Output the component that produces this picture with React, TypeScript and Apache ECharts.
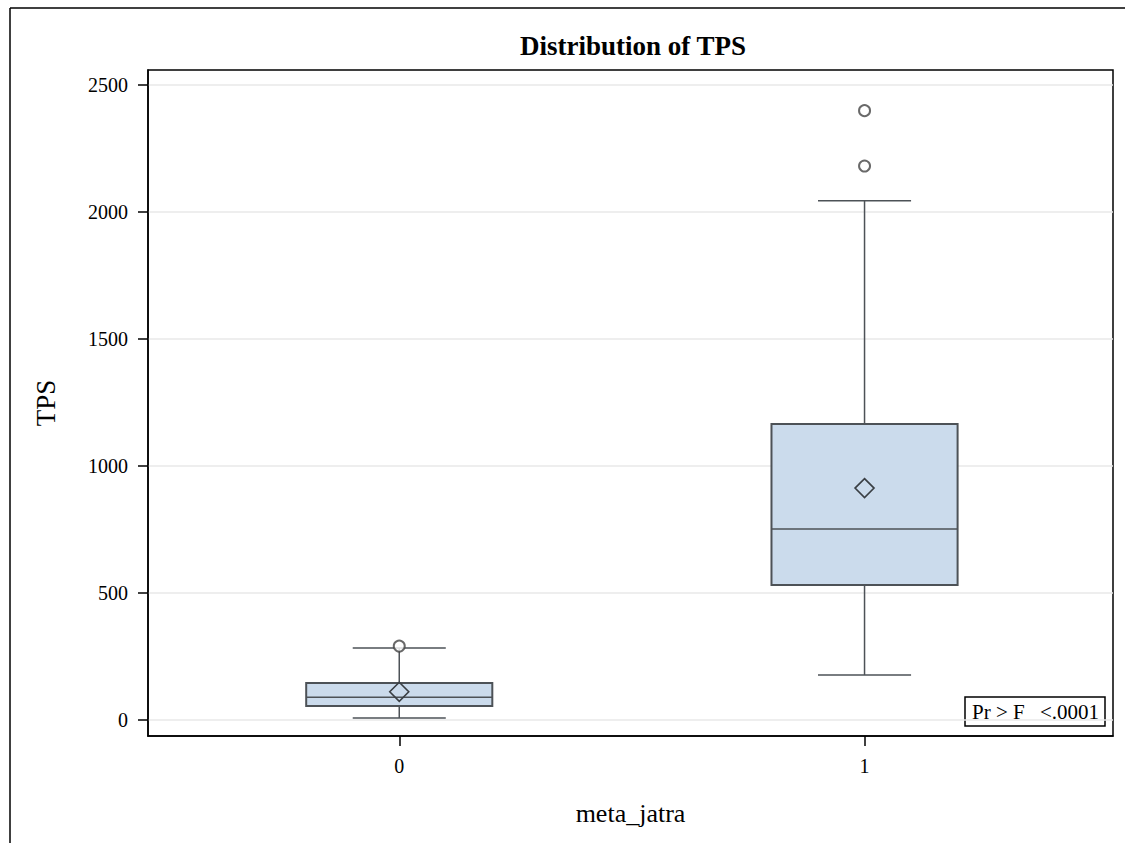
import React, { useEffect, useRef } from "react";
import * as echarts from "echarts";

const categories = ["0", "1"];
const boxMin = [8, 177];
const boxQ1 = [55, 531];
const boxMedian = [90, 752];
const boxQ3 = [146, 1165];
const boxMax = [283, 2044];
const boxMean = [111, 913];
const outlierCategory = [0, 1, 1];
const outlierValue = [291, 2181, 2399];
const yTicks = [0, 500, 1000, 1500, 2000, 2500];
const pLabel = "Pr > F";
const pValue = "<.0001";

const FONT = "'Liberation Serif', 'Times New Roman', 'DejaVu Serif', serif";

export default function App() {
  const ref = useRef<HTMLDivElement>(null);
  useEffect(() => {
    if (!ref.current) return;
    const chart = echarts.init(ref.current, undefined, { renderer: "svg" });
    const boxData = categories.map((_, i) => [
      i,
      boxMin[i],
      boxQ1[i],
      boxMedian[i],
      boxQ3[i],
      boxMax[i],
      boxMean[i],
    ]);
    const outData = outlierValue.map((v, i) => [outlierCategory[i], v]);
    const edge = "#4d5257";
    const option: any = {
      animation: false,
      backgroundColor: "#ffffff",
      title: {
        text: "Distribution of TPS",
        left: 628,
        top: 27,
        textAlign: "center",
        textStyle: { fontFamily: FONT, fontSize: 27, fontWeight: "bold", color: "#000" },
      },
      grid: {
        left: 148,
        top: 70,
        width: 965,
        height: 666,
        show: true,
        borderColor: "#000",
        borderWidth: 1.5,
        backgroundColor: "transparent",
      },
      xAxis: {
        type: "value",
        min: -0.54,
        max: 1.534,
        name: "meta_jatra",
        nameLocation: "middle",
        nameGap: 64,
        nameTextStyle: { fontFamily: FONT, fontSize: 26, color: "#000" },
        axisLine: { show: true, onZero: false, lineStyle: { color: "#000", width: 1.5 } },
        axisTick: { show: true, length: 10, customValues: [0, 1], lineStyle: { color: "#000", width: 1.5 } },
        axisLabel: {
          customValues: [0, 1],
          margin: 20,
          fontFamily: FONT,
          fontSize: 20,
          color: "#000",
          formatter: (v: number) => categories[Math.round(v)] ?? "",
        },
        splitLine: { show: false },
      },
      yAxis: {
        type: "value",
        min: -63,
        max: 2559,
        name: "TPS",
        nameLocation: "middle",
        nameGap: 89,
        nameRotate: 90,
        nameTextStyle: { fontFamily: FONT, fontSize: 27, color: "#000" },
        axisLine: { show: true, onZero: false, lineStyle: { color: "#000", width: 1.5 } },
        axisTick: { show: true, length: 10, customValues: yTicks, lineStyle: { color: "#000", width: 1.5 } },
        axisLabel: {
          customValues: yTicks,
          margin: 20,
          fontFamily: FONT,
          fontSize: 20,
          color: "#000",
          formatter: (v: number) => String(v),
        },
        splitLine: { show: true, lineStyle: { color: "#e8e8e8", width: 1.5 } },
      },
      series: [
        {
          type: "custom",
          data: boxData,
          encode: { x: 0, y: [1, 2, 3, 4, 5, 6] },
          renderItem: (params: any, api: any) => {
            const x = api.value(0);
            const unit = api.size([1, 0])[0];
            const hw = unit * 0.2;
            const cw = unit * 0.1;
            const pMin = api.coord([x, api.value(1)]);
            const pQ1 = api.coord([x, api.value(2)]);
            const pMed = api.coord([x, api.value(3)]);
            const pQ3 = api.coord([x, api.value(4)]);
            const pMax = api.coord([x, api.value(5)]);
            const pMean = api.coord([x, api.value(6)]);
            const cx = pMed[0];
            const lineStyle = { stroke: edge, lineWidth: 1.5 };
            const d = 9.5;
            return {
              type: "group",
              children: [
                { type: "line", shape: { x1: cx, y1: pQ3[1], x2: cx, y2: pMax[1] }, style: lineStyle },
                { type: "line", shape: { x1: cx, y1: pQ1[1], x2: cx, y2: pMin[1] }, style: lineStyle },
                { type: "line", shape: { x1: cx - cw, y1: pMax[1], x2: cx + cw, y2: pMax[1] }, style: lineStyle },
                { type: "line", shape: { x1: cx - cw, y1: pMin[1], x2: cx + cw, y2: pMin[1] }, style: lineStyle },
                {
                  type: "rect",
                  shape: { x: cx - hw, y: pQ3[1], width: 2 * hw, height: pQ1[1] - pQ3[1] },
                  style: { fill: "#cbdbec", stroke: edge, lineWidth: 2 },
                },
                { type: "line", shape: { x1: cx - hw, y1: pMed[1], x2: cx + hw, y2: pMed[1] }, style: lineStyle },
                {
                  type: "polygon",
                  shape: {
                    points: [
                      [cx, pMean[1] - d],
                      [cx + d, pMean[1]],
                      [cx, pMean[1] + d],
                      [cx - d, pMean[1]],
                    ],
                  },
                  style: { fill: "none", stroke: "#3a3f44", lineWidth: 1.6 },
                },
              ],
            };
          },
          z: 2,
        },
        {
          type: "scatter",
          data: outData,
          symbol: "emptyCircle",
          symbolSize: 11,
          itemStyle: { color: "#444", borderWidth: 1.5 },
          z: 3,
        },
      ],
      graphic: [
        {
          type: "line",
          shape: { x1: 10, y1: 8, x2: 1125, y2: 8 },
          style: { stroke: "#000", lineWidth: 1.5 },
          silent: true,
          z: 10,
        },
        {
          type: "line",
          shape: { x1: 10, y1: 8, x2: 10, y2: 843 },
          style: { stroke: "#000", lineWidth: 1.5 },
          silent: true,
          z: 10,
        },
        {
          type: "group",
          x: 965,
          y: 697,
          z: 10,
          children: [
            {
              type: "rect",
              shape: { x: 0, y: 0, width: 140, height: 29 },
              style: { fill: "#fff", stroke: "#000", lineWidth: 1.5 },
            },
            {
              type: "text",
              x: 7,
              y: 15,
              style: { text: pLabel, font: `21px ${FONT}`, fill: "#000", verticalAlign: "middle", align: "left" },
            },
            {
              type: "text",
              x: 134,
              y: 15,
              style: { text: pValue, font: `21px ${FONT}`, fill: "#000", verticalAlign: "middle", align: "right" },
            },
          ],
        },
      ],
    };
    chart.setOption(option);
    return () => chart.dispose();
  }, []);
  return (
    <div
      ref={ref}
      style={{ position: "fixed", left: 0, top: 0, width: 1125, height: 843, background: "#fff" }}
    />
  );
}
